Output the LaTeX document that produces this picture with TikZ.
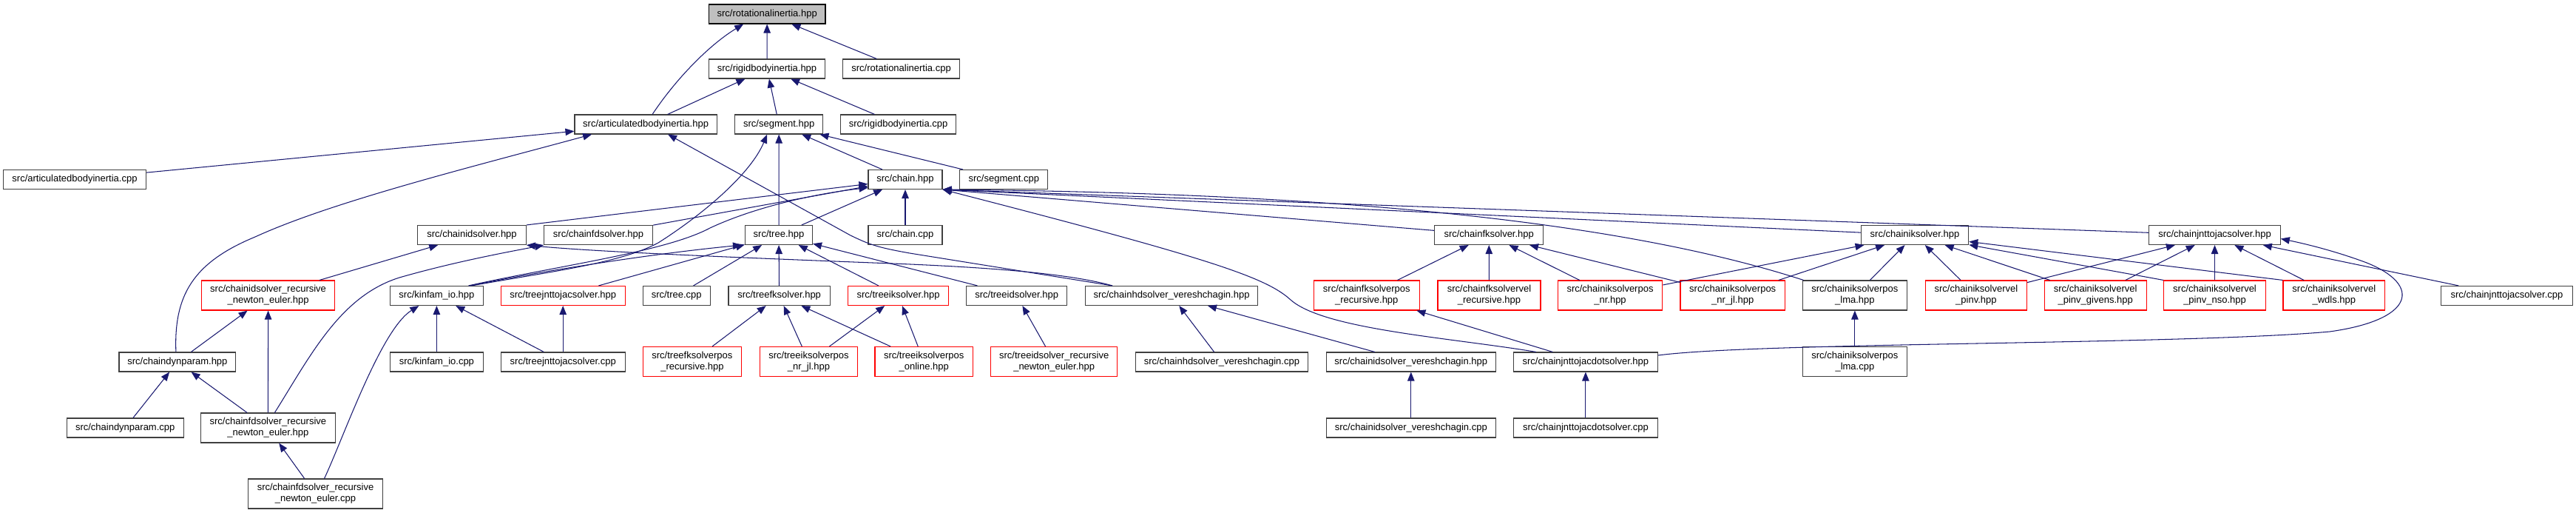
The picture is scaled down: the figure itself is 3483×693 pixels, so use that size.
\documentclass[tikz,border=0pt]{standalone}
\usepackage{fontspec}
\setmainfont{Liberation Sans}
\usetikzlibrary{arrows.meta}
\definecolor{edgeBlue}{HTML}{191970}
\definecolor{boxGrey}{HTML}{404040}
\definecolor{rootGrey}{HTML}{BFBFBF}
\definecolor{boxRed}{HTML}{FF0000}

\begin{document}
\begin{tikzpicture}[
  x=1pt, y=-1pt,
  fileNode/.style={rectangle, draw=boxGrey, line width=1.1pt, inner sep=0pt, minimum height=26pt, align=center, font=\fontsize{13pt}{15pt}\selectfont},
  redNode/.style ={fileNode, draw=boxRed},
  rootNode/.style={fileNode, draw=black, fill=rootGrey},
  twoLine/.style ={minimum height=40pt},
  boxW/.style    ={minimum width=#1pt},
  incEdge/.style ={draw=edgeBlue, line width=1.05pt, -{Triangle[length=12pt,width=9.5pt]}},
]
% page size in pixels of the include graph
\useasboundingbox (0,0) rectangle (3483,693);

% rank 1-4
\node[rootNode, boxW=157.6] (rotHpp)   at (1037.2,19)  {src/rotationalinertia.hpp};
\node[fileNode, boxW=156.5] (rigidHpp) at (1037,93)    {src/rigidbodyinertia.hpp};
\node[fileNode, boxW=157.6] (rotCpp)   at (1218.6,93)  {src/rotationalinertia.cpp};
\node[fileNode, boxW=192.2] (artHpp)   at (873.1,168)  {src/articulatedbodyinertia.hpp};
\node[fileNode, boxW=119]   (segHpp)   at (1053.2,168) {src/segment.hpp};
\node[fileNode, boxW=156.4] (rigidCpp) at (1214.6,168) {src/rigidbodyinertia.cpp};
\node[fileNode, boxW=193]   (artCpp)   at (101,242.5)  {src/articulatedbodyinertia.cpp};
\node[fileNode, boxW=100]   (chainHpp) at (1224,242.5) {src/chain.hpp};
\node[fileNode, boxW=119]   (segCpp)   at (1357.3,242.5) {src/segment.cpp};

% rank 5
\node[fileNode, boxW=146.6] (idHpp)    at (638,317.5)    {src/chainidsolver.hpp};
\node[fileNode, boxW=146.6] (fdHpp)    at (809,317.5)    {src/chainfdsolver.hpp};
\node[fileNode, boxW=91]    (treeHpp)  at (1053,317.5)   {src/tree.hpp};
\node[fileNode, boxW=100]   (chainCpp) at (1224,317.5)   {src/chain.cpp};
\node[fileNode, boxW=147]   (fkHpp)    at (2013.2,317.5) {src/chainfksolver.hpp};
\node[fileNode, boxW=145.4] (ikHpp)    at (2589,317.5)   {src/chainiksolver.hpp};
\node[fileNode, boxW=177.5] (jacHpp)   at (2994.5,317.5) {src/chainjnttojacsolver.hpp};

% rank 6
\node[redNode, boxW=180.2, twoLine] (idRneHpp) at (362.6,399) {src/chainidsolver\_recursive\\\_newton\_euler.hpp};
\node[fileNode, boxW=125.3] (kinHpp)     at (590.4,399.5)  {src/kinfam\_io.hpp};
\node[redNode, boxW=168]    (treeJacHpp) at (761.2,399.5)  {src/treejnttojacsolver.hpp};
\node[fileNode, boxW=90.7]  (treeCpp)    at (914.7,399.5)  {src/tree.cpp};
\node[fileNode, boxW=137.3] (treeFkHpp)  at (1053.6,399.5) {src/treefksolver.hpp};
\node[redNode, boxW=135.8]  (treeIkHpp)  at (1214.6,399.5) {src/treeiksolver.hpp};
\node[fileNode, boxW=136.2] (treeIdHpp)  at (1374.7,399.5) {src/treeidsolver.hpp};
\node[fileNode, boxW=233.4] (hdHpp)      at (1584,399.5)   {src/chainhdsolver\_vereshchagin.hpp};
\node[redNode, boxW=142.7, twoLine] (fkPosHpp)    at (1847.8,399) {src/chainfksolverpos\\\_recursive.hpp};
\node[redNode, boxW=139,   twoLine] (fkVelHpp)    at (2013.5,399) {src/chainfksolvervel\\\_recursive.hpp};
\node[redNode, boxW=141.6, twoLine] (ikNrHpp)     at (2177,399)   {src/chainiksolverpos\\\_nr.hpp};
\node[redNode, boxW=141.5, twoLine] (ikNrJlHpp)   at (2342.7,399) {src/chainiksolverpos\\\_nr\_jl.hpp};
\node[fileNode, boxW=141.6, twoLine] (ikLmaHpp)   at (2507.9,399) {src/chainiksolverpos\\\_lma.hpp};
\node[redNode, boxW=137.3, twoLine] (ikPinvHpp)   at (2671.9,399) {src/chainiksolvervel\\\_pinv.hpp};
\node[redNode, boxW=137.7, twoLine] (ikGivensHpp) at (2833.2,399) {src/chainiksolvervel\\\_pinv\_givens.hpp};
\node[redNode, boxW=137.5, twoLine] (ikNsoHpp)    at (2994.5,399) {src/chainiksolvervel\\\_pinv\_nso.hpp};
\node[redNode, boxW=137.6, twoLine] (ikWdlsHpp)   at (3155.8,399) {src/chainiksolvervel\\\_wdls.hpp};
\node[fileNode, boxW=178]   (jacCpp)     at (3389.5,399.5) {src/chainjnttojacsolver.cpp};

% rank 7
\node[fileNode, boxW=157.8] (dynHpp)     at (239.9,489) {src/chaindynparam.hpp};
\node[fileNode, boxW=125.3] (kinCpp)     at (590.4,489) {src/kinfam\_io.cpp};
\node[fileNode, boxW=168]   (treeJacCpp) at (761.2,489) {src/treejnttojacsolver.cpp};
\node[redNode, boxW=133,   twoLine] (treeFkPosHpp)  at (935.9,488.5)  {src/treefksolverpos\\\_recursive.hpp};
\node[redNode, boxW=132.4, twoLine] (treeIkNrJlHpp) at (1093.5,488.5) {src/treeiksolverpos\\\_nr\_jl.hpp};
\node[redNode, boxW=132.4, twoLine] (treeIkOnHpp)   at (1249.2,488.5) {src/treeiksolverpos\\\_online.hpp};
\node[redNode, boxW=170.7, twoLine] (treeIdRneHpp)  at (1425.2,488.5) {src/treeidsolver\_recursive\\\_newton\_euler.hpp};
\node[fileNode, boxW=233.7] (hdCpp)     at (1651.9,489) {src/chainhdsolver\_vereshchagin.cpp};
\node[fileNode, boxW=229.2] (idVerHpp)  at (1907.8,489) {src/chainidsolver\_vereshchagin.hpp};
\node[fileNode, boxW=194.8] (jacDotHpp) at (2143.9,489) {src/chainjnttojacdotsolver.hpp};
\node[fileNode, boxW=141.6, twoLine] (ikLmaCpp) at (2507.9,488.5) {src/chainiksolverpos\\\_lma.cpp};

% rank 8-9
\node[fileNode, boxW=157.7] (dynCpp)    at (169.2,578)  {src/chaindynparam.cpp};
\node[fileNode, boxW=181.3, twoLine] (fdRneHpp) at (362.4,578) {src/chainfdsolver\_recursive\\\_newton\_euler.hpp};
\node[fileNode, boxW=229.2] (idVerCpp)  at (1907.8,578) {src/chainidsolver\_vereshchagin.cpp};
\node[fileNode, boxW=194.8] (jacDotCpp) at (2143.9,578) {src/chainjnttojacdotsolver.cpp};
\node[fileNode, boxW=181.8, twoLine] (fdRneCpp) at (426.5,667) {src/chainfdsolver\_recursive\\\_newton\_euler.cpp};

% straight includes: child/parent
\foreach \c/\p in {rigidHpp/rotHpp, rotCpp/rotHpp, artHpp/rigidHpp, segHpp/rigidHpp, rigidCpp/rigidHpp,
    artCpp/artHpp, chainHpp/segHpp, segCpp/segHpp, treeHpp/segHpp, treeHpp/chainHpp, chainCpp/chainHpp,
    fdHpp/chainHpp, idRneHpp/idHpp, dynHpp/idRneHpp, fdRneHpp/idRneHpp, dynCpp/dynHpp, fdRneHpp/dynHpp,
    fdRneCpp/fdRneHpp, kinCpp/kinHpp, treeJacCpp/kinHpp, treeJacCpp/treeJacHpp, treeJacHpp/treeHpp,
    treeCpp/treeHpp, treeFkHpp/treeHpp, treeIkHpp/treeHpp, treeIdHpp/treeHpp, treeFkPosHpp/treeFkHpp,
    treeIkNrJlHpp/treeFkHpp, treeIkOnHpp/treeFkHpp, treeIkNrJlHpp/treeIkHpp, treeIkOnHpp/treeIkHpp,
    treeIdRneHpp/treeIdHpp, hdCpp/hdHpp, idVerHpp/hdHpp, idVerCpp/idVerHpp, jacDotCpp/jacDotHpp,
    jacDotHpp/fkPosHpp, fkPosHpp/fkHpp, fkVelHpp/fkHpp, ikNrHpp/fkHpp, ikNrJlHpp/fkHpp,
    ikNrHpp/ikHpp, ikNrJlHpp/ikHpp, ikLmaHpp/ikHpp, ikPinvHpp/ikHpp, ikGivensHpp/ikHpp, ikLmaCpp/ikLmaHpp,
    ikPinvHpp/jacHpp, ikGivensHpp/jacHpp, ikNsoHpp/jacHpp, ikWdlsHpp/jacHpp, jacCpp/jacHpp} {
  \draw[incEdge] (\c) -- (\p);
}
\draw[incEdge] (idHpp.north east) -- (chainHpp);
\draw[incEdge] (fkHpp) -- (chainHpp.south east);
\draw[incEdge] (ikHpp) -- (chainHpp.south east);
\draw[incEdge] (jacHpp) -- (chainHpp.south east);
\draw[incEdge] (ikNsoHpp.north west) -- (ikHpp);
\draw[incEdge] (ikWdlsHpp.north west) -- (ikHpp);

% routed includes
\draw[incEdge] ([xshift=9pt]artHpp.north) .. controls (915,105) and (960,60) .. ([xshift=-32pt]rotHpp.south);
\draw[incEdge] ([xshift=-2pt]dynHpp.north) .. controls (235,400) and (260,355) .. (345,320)
  .. controls (450,272) and (640,225) .. ([xshift=-73pt]artHpp.south);
\draw[incEdge] ([xshift=-80pt]hdHpp.north) -- (1230,342) .. controls (1185,334) and (1175,330) .. (1150,318)
  -- ([xshift=30pt]artHpp.south);
\draw[incEdge] ([xshift=-80pt]hdHpp.north) .. controls (1440,368) and (1320,360) .. (1180,355)
  .. controls (1000,348) and (800,340) .. (idHpp.south east);
\draw[incEdge] ([xshift=9pt]fdRneHpp.north) .. controls (420,480) and (460,400) .. (540,375)
  .. controls (620,352) and (700,338) .. (fdHpp.south west);
\draw[incEdge] ([xshift=12pt]fdRneCpp.north) .. controls (465,590) and (515,445) .. ([xshift=-24pt]kinHpp.south);
\draw[incEdge] ([xshift=45pt]kinHpp.north) .. controls (740,365) and (880,343) .. ([xshift=-4pt]treeHpp.south west);
\draw[incEdge] ([xshift=43pt]kinHpp.north) .. controls (760,358) and (900,340) .. (960,308)
  .. controls (1020,280) and (1100,262) .. ([yshift=-11pt]chainHpp.west);
\draw[incEdge] ([xshift=47pt]kinHpp.north) .. controls (750,366) and (840,355) .. (890,328)
  .. controls (950,290) and (1015,235) .. ([xshift=-16pt]segHpp.south);
\draw[incEdge] ([xshift=2pt]ikLmaHpp.north west) .. controls (2150,285) and (1700,260) .. (chainHpp.south east);
\draw[incEdge] ([xshift=-67pt]jacDotHpp.north) .. controls (1960,456) and (1790,445) .. (1745,405)
  .. controls (1712,375) and (1640,350) .. (chainHpp.south east);
\draw[incEdge] ([yshift=9pt]jacDotHpp.east) .. controls (2380,462) and (2950,466) .. (3150,448)
  .. controls (3265,432) and (3275,385) .. (3200,355)
  .. controls (3160,340) and (3120,330) .. ([yshift=-5pt]jacHpp.east);
\end{tikzpicture}
\end{document}
